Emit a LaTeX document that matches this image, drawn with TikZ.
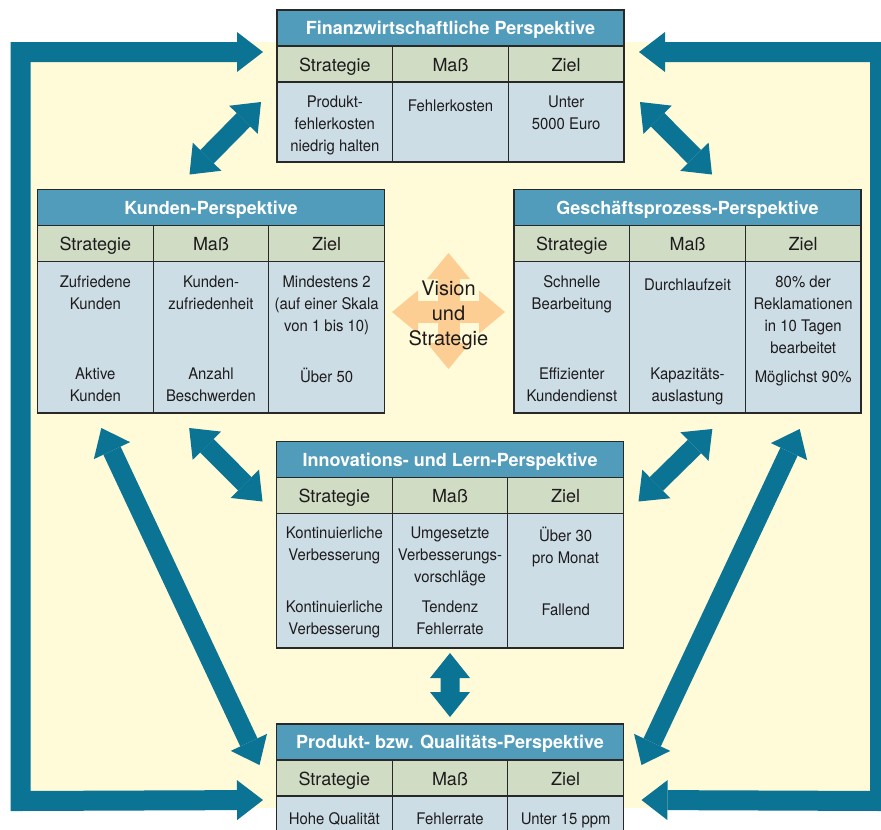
\documentclass[tikz,border=0pt]{standalone}
\usepackage{fontspec}
\setmainfont{TeX Gyre Heros}
\newfontfamily\cellfont[FakeStretch=0.93]{TeX Gyre Heros}
\usetikzlibrary{arrows.meta}
\definecolor{arrowc}{RGB}{11,115,148}
\definecolor{hdrc}{RGB}{81,155,187}
\definecolor{lblc}{RGB}{208,220,196}
\definecolor{cellc}{RGB}{204,221,230}
\definecolor{bgc}{RGB}{255,250,215}
\definecolor{visc}{RGB}{253,206,148}
\definecolor{linec}{RGB}{40,40,40}
\definecolor{textc}{RGB}{30,27,28}
\tikzset{
  hdr/.style={draw=linec, line width=1.3pt, fill=hdrc, minimum width=347pt, minimum height=36pt,
    inner sep=0pt, outer sep=0pt, text=white, text height=15pt, text depth=2pt, font=\bfseries\fontsize{18}{20}\selectfont},
  lbl/.style={draw=linec, line width=1.3pt, fill=lblc, minimum width=115.667pt, minimum height=36pt,
    inner sep=0pt, outer sep=0pt, text=textc, text height=15pt, text depth=1pt, font=\fontsize{18}{20}\selectfont},
  cellbox/.style={draw=linec, line width=1.3pt, fill=cellc, minimum width=115.667pt, inner sep=0pt, outer sep=0pt},
  celltxt/.style={anchor=north, inner sep=0pt, align=center, text=textc,
    font=\cellfont\fontsize{16}{22}\selectfont, execute at begin node={\rule{0pt}{15pt}}},
  bigarrow/.style={draw=arrowc, line width=19pt,
    {Triangle[width=40pt,length=25pt,line width=0pt]}-{Triangle[width=40pt,length=25pt,line width=0pt]}},
  framearrow/.style={draw=arrowc, line width=20pt, line join=miter,
    {Triangle[width=40pt,length=26pt,line width=0pt]}-{Triangle[width=40pt,length=26pt,line width=0pt]}},
  visarrow/.style={draw=visc, line width=22pt,
    {Triangle[width=43pt,length=26pt,line width=0pt]}-{Triangle[width=43pt,length=26pt,line width=0pt]}}
}
\newcommand{\perstab}[5]{%
  \node[hdr, anchor=north west] (#1) at (#2,#3) {#4};
  \node[lbl, anchor=north west] (#1S) at (#1.south west) {Strategie};
  \node[lbl, anchor=north west] (#1M) at (#1S.north east) {Maß};
  \node[lbl, anchor=north west] (#1Z) at (#1M.north east) {Ziel};
  \node[cellbox, minimum height=#5pt, anchor=north west] (#1CS) at (#1S.south west) {};
  \node[cellbox, minimum height=#5pt, anchor=north west] (#1CM) at (#1M.south west) {};
  \node[cellbox, minimum height=#5pt, anchor=north west] (#1CZ) at (#1Z.south west) {};
}
\begin{document}
\begin{tikzpicture}[x=1pt,y=-1pt]
\clip (0,0) rectangle (881,830);
\fill[white] (0,0) rectangle (881,830);
\fill[bgc] (20,42) rectangle (880,808);

% tables
\perstab{fin}{277}{10}{Finanzwirtschaftliche Perspektive}{80}
\perstab{kun}{37.5}{189.5}{Kunden-Perspektive}{151.5}
\perstab{ges}{514}{189.5}{Geschäftsprozess-Perspektive}{151.5}
\perstab{inn}{276.5}{441.5}{Innovations- und Lern-Perspektive}{134.5}
\perstab{pro}{276.5}{724}{Produkt- bzw. Qualitäts-Perspektive}{40}

% frame arrows
\coordinate (ftl) at (20.5,52);
\coordinate (fbl) at (20.5,801);
\coordinate (ftr) at (880,52);
\coordinate (fbr) at (880,801);
\draw[framearrow] ([shift={(-14,6)}]finS.north west) -- (ftl) -- (fbl) -- ([shift={(-13.5,4)}]proCS.north west);
\draw[framearrow] ([shift={(15,6)}]finZ.north east) -- (ftr) -- (fbr) -- ([shift={(18,4)}]proCZ.north east);

% connectors
\draw[bigarrow] ([shift={(-16,20)}]finCS.north west) -- ([shift={(152,-15)}]kun.north west);
\draw[bigarrow] ([shift={(16,20)}]finCZ.north east) -- ([shift={(-149,-15)}]ges.north east);
\draw[bigarrow] ([shift={(36,15)}]kunCM.south west) -- ([shift={(-14,24)}]innS.north west);
\draw[bigarrow] ([shift={(-33,16)}]gesCM.south east) -- ([shift={(15,24)}]innZ.north east);
\draw[bigarrow] ([shift={(0,5)}]innCM.south) -- ([shift={(0,-7)}]pro.north);
\draw[bigarrow] ([shift={(6,15)}]kunCS.south) -- ([shift={(-17,-13)}]proS.west);
\draw[bigarrow] ([shift={(-3.5,16)}]gesCZ.south) -- ([shift={(18,-13)}]proZ.east);

% vision cross
\coordinate (vc) at (448.5,312);
\draw[visarrow] ([xshift=-56.5pt]vc) -- ([xshift=56.5pt]vc);
\draw[visarrow] ([yshift=59pt]vc) -- ([yshift=-57pt]vc);
\node[align=center, inner sep=0pt, text=textc, font=\fontsize{20}{25}\selectfont] (vis) at ([yshift=-3pt]vc) {Vision\\und\\Strategie};

% cell texts
\node[celltxt] (finT1) at ([shift={(0,14)}]finCS.north) {Produkt-\\fehlerkosten\\niedrig halten};
\node[celltxt] (finT2) at ([shift={(0,14)}]finCM.north) {Fehlerkosten};
\node[celltxt] (finT3) at ([shift={(0,14)}]finCZ.north) {Unter\\5000 Euro};

\node[celltxt] (kunT1) at ([shift={(0,14)}]kunCS.north) {Zufriedene\\Kunden};
\node[celltxt] (kunT2) at ([shift={(0,14)}]kunCM.north) {Kunden-\\zufriedenheit};
\node[celltxt] (kunT3) at ([shift={(0,14)}]kunCZ.north) {Mindestens 2\\(auf einer Skala\\von 1 bis 10)};
\node[celltxt] (kunT4) at ([shift={(0,106)}]kunCS.north) {Aktive\\Kunden};
\node[celltxt] (kunT5) at ([shift={(0,106)}]kunCM.north) {Anzahl\\Beschwerden};
\node[celltxt] (kunT6) at ([shift={(0,106)}]kunCZ.north) {Über 50};

\node[celltxt] (gesT1) at ([shift={(0,14)}]gesCS.north) {Schnelle\\Bearbeitung};
\node[celltxt] (gesT2) at ([shift={(0,14)}]gesCM.north) {Durchlaufzeit};
\node[celltxt] (gesT3) at ([shift={(0,14)}]gesCZ.north) {80\% der\\Reklamationen\\in 10 Tagen\\bearbeitet};
\node[celltxt] (gesT4) at ([shift={(0,106)}]gesCS.north) {Effizienter\\Kundendienst};
\node[celltxt] (gesT5) at ([shift={(0,106)}]gesCM.north) {Kapazitäts-\\auslastung};
\node[celltxt] (gesT6) at ([shift={(0,106)}]gesCZ.north) {Möglichst 90\%};

\node[celltxt] (innT1) at ([shift={(0,13.5)}]innCS.north) {Kontinuierliche\\Verbesserung};
\node[celltxt] (innT2) at ([shift={(0,13.5)}]innCM.north) {Umgesetzte\\Verbesserungs-\\vorschläge};
\node[celltxt] (innT3) at ([shift={(0,13.5)}]innCZ.north) {Über 30\\pro Monat};
\node[celltxt] (innT4) at ([shift={(0,87)}]innCS.north) {Kontinuierliche\\Verbesserung};
\node[celltxt] (innT5) at ([shift={(0,87)}]innCM.north) {Tendenz\\Fehlerrate};
\node[celltxt] (innT6) at ([shift={(0,87)}]innCZ.north) {Fallend};

\node[celltxt] (proT1) at ([shift={(0,13)}]proCS.north) {Hohe Qualität};
\node[celltxt] (proT2) at ([shift={(0,13)}]proCM.north) {Fehlerrate};
\node[celltxt] (proT3) at ([shift={(0,13)}]proCZ.north) {Unter 15 ppm};
\end{tikzpicture}
\end{document}
